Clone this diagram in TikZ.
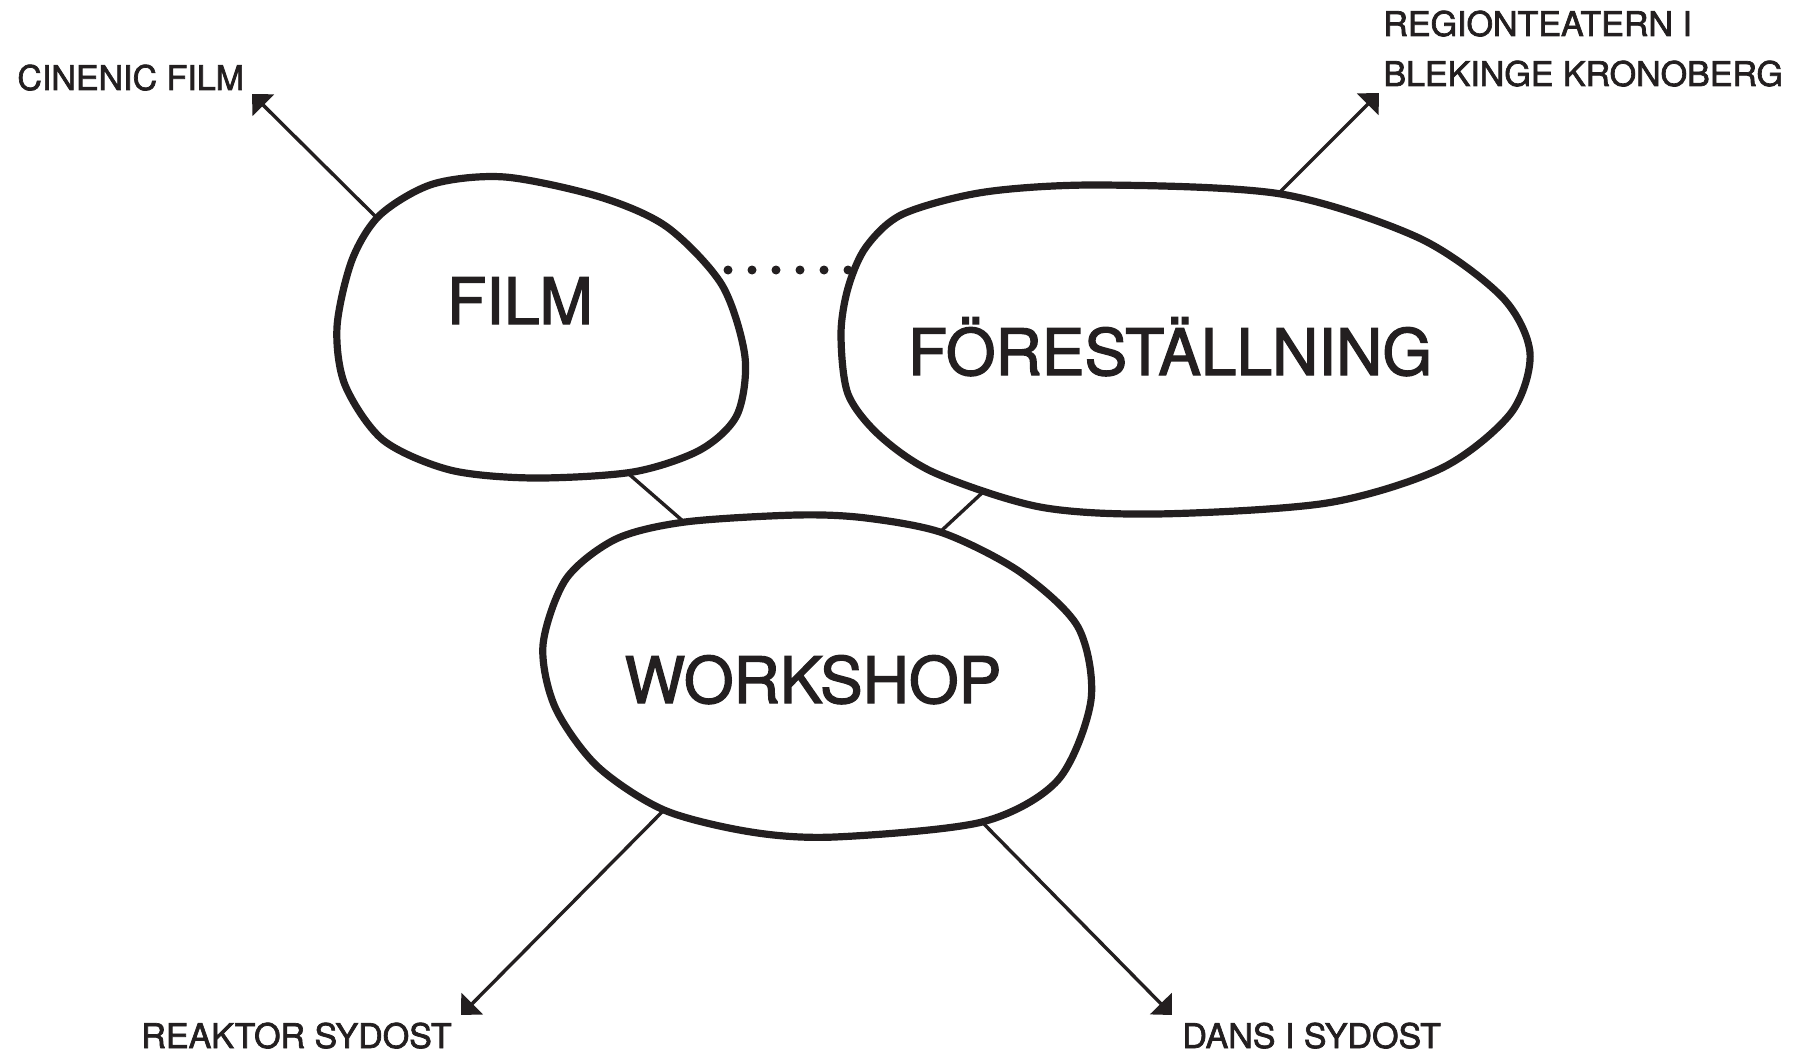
\documentclass[tikz,border=0pt]{standalone}
\usepackage{fontspec}
\setmainfont{TeX Gyre Heros}
\newfontfamily\medfont{TeX Gyre Heros}[FakeBold=2]
\usetikzlibrary{arrows.meta}
\definecolor{ink}{HTML}{231F20}
\begin{document}
\begin{tikzpicture}[x=0.5pt,y=-0.5pt,
  blob/.style={draw=ink,line width=3.6pt},
  link/.style={draw=ink,line width=1.7pt},
  arrowlink/.style={link,-{Triangle[length=8pt,width=15pt]}},
  blobtitle/.style={inner sep=0pt,anchor=base,font=\medfont\fontsize{32}{38}\selectfont,text=ink},
  lbl/.style={inner sep=0pt,anchor=base west,font=\medfont\fontsize{17}{20}\selectfont,text=ink},
  dotline/.style={draw=ink,line width=4.5pt,line cap=round,dash pattern=on 0pt off 12pt}]
\useasboundingbox (0,0) rectangle (1803,1054);

% blobs
\draw[blob] plot[smooth cycle] coordinates {(505,177) (600,197) (667,227) (722,285) (745,357) (737,415) (700,450) (633,472) (533,478) (450,470) (383,440) (345,385) (337,327) (352,260) (380,215) (433,184)};
\draw[blob] plot[smooth cycle] coordinates {(1100,185) (1281,194) (1419,238) (1502,297) (1530,353) (1511,413) (1442,468) (1327,503) (1156,514) (1040,507) (935,473) (880,436) (848,394) (841,334) (848,288) (866,247) (903,214) (985,192)};
\draw[blob] plot[smooth cycle] coordinates {(797,515) (866,518) (943,533) (1020,572) (1078,627) (1091,700) (1058,780) (982,822) (835,837) (751,832) (664,810) (597,766) (555,707) (543,645) (566,579) (616,539) (685,522)};

% titles
\node[blobtitle] (film) at (520,324) {FILM};
\node[blobtitle] (forest) at (1170,375) {FÖRESTÄLLNING};
\node[blobtitle] (workshop) at (813,703) {WORKSHOP};

% labels
\node[lbl] (cinenic) at (17,90) {CINENIC FILM};
\node[lbl] (reg1) at (1383,36) {REGIONTEATERN I};
\node[lbl] (reg2) at (1383,86) {BLEKINGE KRONOBERG};
\node[lbl] (reaktor) at (141,1048) {REAKTOR SYDOST};
\node[lbl] (dans) at (1182,1048) {DANS I SYDOST};

% connection points
\coordinate (filmNW) at (377,218);
\coordinate (filmR) at (728,270);
\coordinate (filmS) at (630,475);
\coordinate (forestL) at (848,270);
\coordinate (forestNE) at (1278,194);
\coordinate (forestS) at (982,493);
\coordinate (workN1) at (684,522);
\coordinate (workN2) at (940,532);
\coordinate (workSW) at (664,810);
\coordinate (workSE) at (982,822);
\coordinate (tipCinenic) at (252,94);
\coordinate (tipRegion) at (1379,93);
\coordinate (tipReaktor) at (461,1015);
\coordinate (tipDans) at (1172,1015);

% connectors
\draw[arrowlink] (filmNW) -- (tipCinenic);
\draw[arrowlink] (forestNE) -- (tipRegion);
\draw[arrowlink] (workSW) -- (tipReaktor);
\draw[arrowlink] (workSE) -- (tipDans);
\draw[link] (filmS) -- (workN1);
\draw[link] (forestS) -- (workN2);
\draw[dotline] (filmR) -- (forestL);
\end{tikzpicture}
\end{document}
